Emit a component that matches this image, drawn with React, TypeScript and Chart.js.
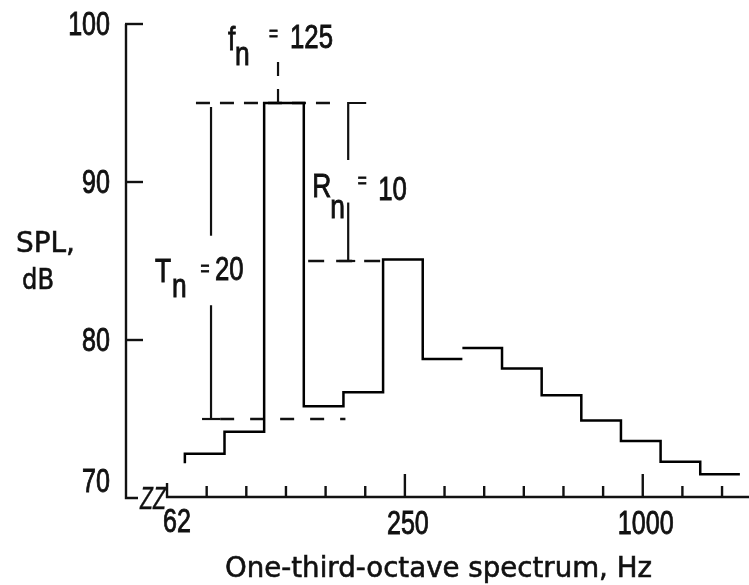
import { useEffect, useRef } from "react";
import { Chart, registerables } from "chart.js";

Chart.register(...registerables);

// One-third-octave band positions along the x axis (62 Hz is the axis origin)
const tickBands = ["62", "80", "100", "125", "160", "200", "250", "315", "400", "500", "630", "800", "1000", "1250", "1600"];
const labelledBands = ["62", "250", "1000"];

// Measured spectrum
const bandsHz = ["80", "100", "125", "160", "200", "250", "315", "400", "500", "630", "800", "1000", "1250", "1600"];
const splLevels = [72.8, 74.2, 95.0, 75.8, 76.7, 85.1, 78.8, 79.5, 78.2, 76.5, 74.9, 73.6, 72.3, 71.5];
const startLevel = 72.2;
const brokenRisers = ["400"];

const yTicks = [70, 80, 90, 100];

// Annotated quantities
const fnBand = "125";
const Rn = 10;
const Tn = 20;

const DIGIT_FONT = '"Liberation Sans", Arial, sans-serif';
const TITLE_FONT = '"DejaVu Sans", "Liberation Sans", sans-serif';

function buildPoints() {
  const pts: { x: number; y: number | null }[] = [];
  bandsHz.forEach((hz, k) => {
    const i = tickBands.indexOf(hz);
    const lo = i - 0.55;
    const hi = i + 0.45;
    if (k === 0) pts.push({ x: lo, y: startLevel });
    else if (brokenRisers.includes(hz)) pts.push({ x: lo, y: null });
    pts.push({ x: lo, y: splLevels[k] }, { x: hi, y: splLevels[k] });
  });
  return pts;
}

function txt(
  ctx: CanvasRenderingContext2D,
  s: string,
  x: number,
  y: number,
  size: number,
  sx: number,
  align: CanvasTextAlign = "left",
  base: CanvasTextBaseline = "alphabetic",
  family = DIGIT_FONT,
  style = "",
  thick = 0.9
) {
  ctx.save();
  ctx.font = `${style} ${size}px ${family}`;
  ctx.textAlign = align;
  ctx.textBaseline = base;
  ctx.translate(x, y);
  ctx.scale(sx, 1);
  ctx.fillText(s, 0, 0);
  if (thick > 0) {
    ctx.setLineDash([]);
    ctx.lineWidth = thick;
    ctx.strokeText(s, 0, 0);
  }
  ctx.restore();
}

function txtFit(ctx: CanvasRenderingContext2D, s: string, left: number, y: number, size: number, width: number, family: string, thick = 0.6) {
  ctx.save();
  ctx.font = `${size}px ${family}`;
  const w = ctx.measureText(s).width;
  ctx.textAlign = "left";
  ctx.textBaseline = "alphabetic";
  ctx.translate(left, y);
  ctx.scale(width / w, 1);
  ctx.fillText(s, 0, 0);
  ctx.setLineDash([]);
  ctx.lineWidth = thick;
  ctx.strokeText(s, 0, 0);
  ctx.restore();
}

function line(ctx: CanvasRenderingContext2D, x1: number, y1: number, x2: number, y2: number, dash: number[] = []) {
  ctx.save();
  ctx.setLineDash(dash);
  ctx.beginPath();
  ctx.moveTo(x1, y1);
  ctx.lineTo(x2, y2);
  ctx.stroke();
  ctx.restore();
}

const drawPlugin = {
  id: "paperAxes",
  beforeDatasetsDraw(chart: any) {
    const ctx: CanvasRenderingContext2D = chart.ctx;
    const xs = chart.scales.x;
    const ys = chart.scales.y;
    const X = (v: number) => xs.getPixelForValue(v);
    const Y = (v: number) => ys.getPixelForValue(v);
    const peak = Math.max(...splLevels);
    ctx.save();
    ctx.strokeStyle = "#111";
    ctx.fillStyle = "#111";
    ctx.lineWidth = 2.3;

    // top reference dashed line (peak level)
    line(ctx, X(0.73), Y(peak), X(4.35), Y(peak), [14, 10]);
    // T_n bottom dashed line
    line(ctx, X(1.34), Y(peak - Tn), X(4.5), Y(peak - Tn), [14, 16]);
    // R_n bottom dashed line
    line(ctx, X(3.56), Y(peak - Rn), X(5.4), Y(peak - Rn), [16, 12]);
    ctx.restore();
  },
  afterDraw(chart: any) {
    const ctx: CanvasRenderingContext2D = chart.ctx;
    const xs = chart.scales.x;
    const ys = chart.scales.y;
    const X = (v: number) => xs.getPixelForValue(v);
    const Y = (v: number) => ys.getPixelForValue(v);
    const left = chart.chartArea.left;
    const right = chart.chartArea.right;
    const bottom = Y(70);
    const peak = Math.max(...splLevels);

    ctx.save();
    ctx.strokeStyle = "#111";
    ctx.fillStyle = "#111";
    ctx.lineWidth = 2.4;
    ctx.lineCap = "butt";

    // y axis with foot
    ctx.beginPath();
    ctx.moveTo(left + 1, Y(100));
    ctx.lineTo(left + 1, bottom);
    ctx.lineTo(left + 13, bottom);
    ctx.stroke();
    yTicks.forEach((v) => {
      if (v !== 70) line(ctx, left, Y(v), left + 18, Y(v));
      if (v === 70) txt(ctx, String(v), 110, bottom + 1, 33, 0.76, "right", "bottom");
      else txt(ctx, String(v), 110, Y(v) + 2, 33, 0.76, "right", "middle");
    });

    // axis break
    txt(ctx, "ZZ", 140, bottom + 11, 31, 0.68, "left", "alphabetic", DIGIT_FONT, "italic", 0.4);

    // x axis
    line(ctx, X(0) - 1, bottom - 1, right, bottom - 1);
    tickBands.forEach((b, i) => {
      const major = labelledBands.includes(b);
      const len = i === 0 ? 15 : major ? 24 : 12;
      line(ctx, X(i), bottom, X(i), bottom - len);
      if (major) {
        if (i === 0) txt(ctx, b, X(i) - 4, bottom + 8, 33, 0.76, "left", "top");
        else txt(ctx, b, X(i) + 3, bottom + 10, 33, 0.76, "center", "top");
      }
    });

    // axis titles
    txtFit(ctx, "One-third-octave spectrum, Hz", 225, 577, 28, 427, TITLE_FONT);
    txtFit(ctx, "SPL,", 16, 252, 29, 59, TITLE_FONT);
    txtFit(ctx, "dB", 22, 289, 29, 32, TITLE_FONT);

    // f_n marker
    const fx = X(tickBands.indexOf(fnBand) - 0.2);
    const py = Y(peak);
    ctx.lineWidth = 2.2;
    line(ctx, fx, py, fx, py - 42, [14, 13]);
    txt(ctx, "f", fx - 50, py - 53, 33, 0.8);
    txt(ctx, "n", fx - 43, py - 38, 33, 0.8);
    txt(ctx, "=", fx - 4.5, py - 68, 22, 0.7, "center", "middle");
    txt(ctx, String(bandsHz.includes(fnBand) ? fnBand : ""), fx + 12, py - 55, 33, 0.78);

    // T_n marker
    const tx = X(1.11);
    const tBot = Y(peak - Tn);
    ctx.lineWidth = 2.2;
    line(ctx, tx, py + 4, tx, Y(86.6));
    line(ctx, tx, Y(82.2), tx, tBot);
    line(ctx, tx - 9, tBot, tx + 9, tBot);
    txt(ctx, "T", tx - 56, Y(83.67), 33, 0.8);
    txt(ctx, "n", tx - 39, Y(82.72), 33, 0.8);
    txt(ctx, "=", tx - 6, Y(84.43), 22, 0.7, "center", "middle");
    txt(ctx, String(Tn), tx + 4, Y(83.8), 33, 0.78);

    // R_n marker
    const rx = X(4.57);
    const rBot = Y(peak - Rn);
    ctx.lineWidth = 2.2;
    ctx.beginPath();
    ctx.moveTo(rx + 18, py);
    ctx.lineTo(rx, py);
    ctx.lineTo(rx, Y(91.4));
    ctx.stroke();
    line(ctx, rx, Y(88.7), rx, rBot);
    line(ctx, rx - 9, rBot, rx + 7, rBot);
    txt(ctx, "R", rx - 36, Y(89.05), 33, 0.8);
    txt(ctx, "n", rx - 18, Y(87.72), 33, 0.8);
    txt(ctx, "=", rx + 14, Y(90.0), 22, 0.7, "center", "middle");
    txt(ctx, String(Rn), rx + 30, Y(88.86), 33, 0.78);

    ctx.restore();
  },
};

export default function App() {
  const ref = useRef<HTMLCanvasElement | null>(null);
  useEffect(() => {
    if (!ref.current) return;
    const chart = new Chart(ref.current, {
      type: "line",
      data: {
        datasets: [
          {
            data: buildPoints() as any,
            borderColor: "#000",
            borderWidth: 2.5,
            pointRadius: 0,
            fill: false,
            tension: 0,
            spanGaps: false,
          },
        ],
      },
      options: {
        animation: false,
        responsive: true,
        maintainAspectRatio: false,
        layout: { padding: { left: 125, right: 0, top: 24, bottom: 87 } },
        scales: {
          x: { type: "linear", min: -1.06, max: 14.68, display: false },
          y: { type: "linear", min: 70, max: 100, display: false },
        },
        plugins: { legend: { display: false }, tooltip: { enabled: false } },
      },
      plugins: [drawPlugin],
    });
    return () => chart.destroy();
  }, []);
  return (
    <div style={{ position: "absolute", left: 0, top: 0, width: 749, height: 585, background: "#fff" }}>
      <canvas ref={ref} />
    </div>
  );
}
